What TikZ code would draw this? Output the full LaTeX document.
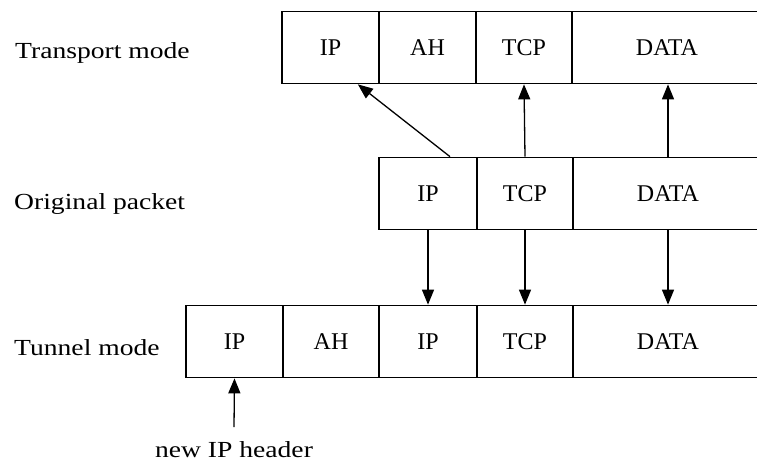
\documentclass[tikz,border=0pt]{standalone}
\usepackage{fontspec}
\setmainfont{Liberation Serif}
\newfontfamily\widefont[FakeStretch=1.2]{Liberation Serif}
\usetikzlibrary{arrows.meta}

\begin{document}
\begin{tikzpicture}[x=1pt, y=-1pt,
  cell/.style={draw, line width=1.7pt, inner sep=0pt, minimum height=72pt,
    font=\fontsize{24}{28}\selectfont},
  rowlabel/.style={anchor=base west, inner sep=0pt,
    font=\widefont\fontsize{23}{27}\selectfont},
  arr/.style={line width=1.3pt, -{Triangle[length=15pt, width=12pt]}}
]
\fill[white] (0,0) rectangle (757,469);
\useasboundingbox (0,0) rectangle (757,469);
\begin{scope}
\clip (0,0) rectangle (757,469);

% transport mode packet
\node[cell, minimum width=97pt]  (tIP)   at (330.5,47.5) {IP};
\node[cell, minimum width=97pt]  (tAH)   at (427.5,47.5) {AH};
\node[cell, minimum width=96pt]  (tTCP)  at (524,47.5)   {TCP};
\node[cell, minimum width=190pt] (tDATA) at (667,47.5)   {DATA};

% original packet
\node[cell, minimum width=98pt]  (oIP)   at (428,193.5)   {IP};
\node[cell, minimum width=96pt]  (oTCP)  at (525,193.5)   {TCP};
\node[cell, minimum width=190pt] (oDATA) at (668,193.5)   {DATA};

% tunnel mode packet
\node[cell, minimum width=97pt]  (nIP)   at (234.5,341.5) {IP};
\node[cell, minimum width=96pt]  (nAH)   at (331,341.5)   {AH};
\node[cell, minimum width=98pt]  (nIPi)  at (428,341.5)   {IP};
\node[cell, minimum width=96pt]  (nTCP)  at (525,341.5)   {TCP};
\node[cell, minimum width=190pt] (nDATA) at (668,341.5)   {DATA};
\end{scope}

% row labels
\node[rowlabel] (ltrans) at (15,58)  {Transport mode};
\node[rowlabel] (lorig)  at (14,209) {Original packet};
\node[rowlabel] (ltun)   at (14,355) {Tunnel mode};

% new header label
\node[anchor=base, inner sep=0pt, font=\widefont\fontsize{23}{27}\selectfont]
  (hdr) at (234,457) {new IP header};
\coordinate (hdrtail) at (234,427);

% original packet -> transport mode
\draw[arr] ([xshift=22pt]oIP.north) -- ([xshift=-22pt]tIP.south east);
\draw[arr] (oTCP.north) -- (tTCP.south);
\draw[arr] (oDATA.north) -- (oDATA.north |- tDATA.south);

% original packet -> tunnel mode
\draw[arr] (oIP.south) -- (nIPi.north);
\draw[arr] (oTCP.south) -- (nTCP.north);
\draw[arr] (oDATA.south) -- (nDATA.north);

% new IP header pointer
\draw[arr] (hdrtail) -- (nIP.south);
\end{tikzpicture}
\end{document}
